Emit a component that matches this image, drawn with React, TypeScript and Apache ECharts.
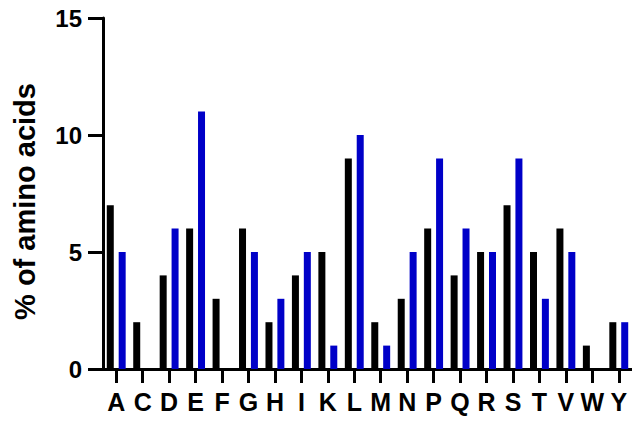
import React, { useEffect, useRef } from "react";
import * as echarts from "echarts";

const categories = ["A", "C", "D", "E", "F", "G", "H", "I", "K", "L", "M", "N", "P", "Q", "R", "S", "T", "V", "W", "Y"];
const blackValues = [7, 2, 4, 6, 3, 6, 2, 4, 5, 9, 2, 3, 6, 4, 5, 7, 5, 6, 1, 2];
const blueValues = [5, 0, 6, 11, 0, 5, 3, 5, 1, 10, 1, 5, 9, 6, 5, 9, 3, 5, 0, 2];
const yTicks = { min: 0, max: 15, interval: 5 };

const FONT = "'Liberation Sans', Arial, sans-serif";

export default function App() {
  const ref = useRef<HTMLDivElement>(null);
  useEffect(() => {
    if (!ref.current) return;
    const chart = echarts.init(ref.current, undefined, { renderer: "svg" });
    chart.setOption({
      animation: false,
      backgroundColor: "#ffffff",
      grid: { left: 103, top: 18, width: 532, bottom: 52 },
      xAxis: {
        type: "category",
        data: categories,
        axisLine: { show: true, lineStyle: { color: "#000", width: 3 } },
        axisTick: { show: true, alignWithLabel: true, length: 14, lineStyle: { color: "#000", width: 3 } },
        axisLabel: { color: "#000", fontSize: 25, fontWeight: "bold", fontFamily: FONT, margin: 20, interval: 0 },
        splitLine: { show: false },
      },
      yAxis: {
        type: "value",
        min: yTicks.min,
        max: yTicks.max,
        interval: yTicks.interval,
        name: "% of amino acids",
        nameLocation: "middle",
        nameGap: 64,
        nameTextStyle: { color: "#000", fontSize: 29, fontWeight: "bold", fontFamily: FONT, padding: [0, 16, 0, 0] },
        axisLine: { show: true, lineStyle: { color: "#000", width: 3 } },
        axisTick: { show: true, length: 15, lineStyle: { color: "#000", width: 3 } },
        axisLabel: { color: "#000", fontSize: 24, fontWeight: "bold", fontFamily: FONT, margin: 21 },
        splitLine: { show: false },
      },
      series: [
        {
          type: "bar",
          data: blackValues,
          barWidth: 7,
          barGap: "70%",
          itemStyle: { color: "#000000" },
        },
        {
          type: "bar",
          data: blueValues,
          barWidth: 7,
          barGap: "70%",
          itemStyle: { color: "#0000c8" },
        },
      ],
    });
    return () => chart.dispose();
  }, []);
  return <div ref={ref} style={{ position: "fixed", left: 0, top: 0, width: 632, height: 421 }} />;
}
